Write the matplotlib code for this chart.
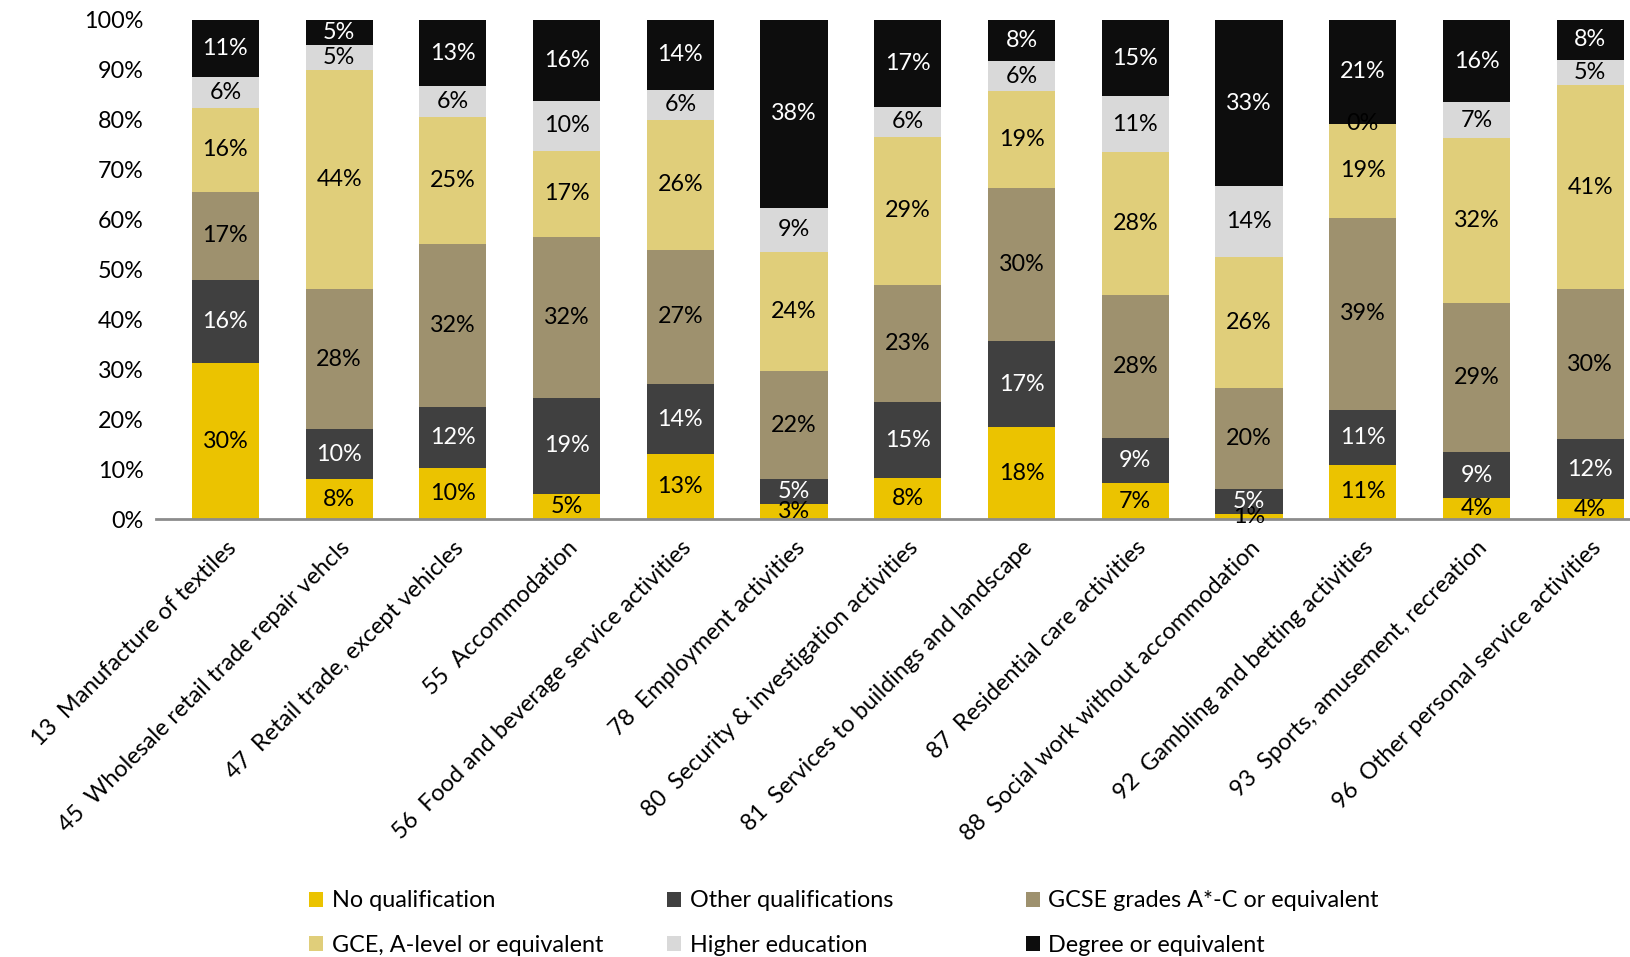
import numpy as np
import matplotlib
matplotlib.use("Agg")
import matplotlib.pyplot as plt
from matplotlib.patches import Patch

plt.rcParams['font.family'] = ['Lato', 'DejaVu Sans']

industries = [
    "13  Manufacture of textiles",
    "45  Wholesale retail trade repair vehcls",
    "47  Retail trade, except vehicles",
    "55  Accommodation",
    "56  Food and beverage service activities",
    "78  Employment activities",
    "80  Security & investigation activities",
    "81  Services to buildings and landscape",
    "87  Residential care activities",
    "88  Social work without accommodation",
    "92  Gambling and betting activities",
    "93  Sports, amusement, recreation",
    "96  Other personal service activities",
]

qualifications = [
    "No qualification",
    "Other qualifications",
    "GCSE grades A*-C or equivalent",
    "GCE, A-level or equivalent",
    "Higher education",
    "Degree or equivalent",
]

# share of workers (%) by highest qualification, one list per qualification
no_qual = [30, 8, 10, 5, 13, 3, 8, 18, 7, 1, 11, 4, 4]
other_qual = [16, 10, 12, 19, 14, 5, 15, 17, 9, 5, 11, 9, 12]
gcse = [17, 28, 32, 32, 27, 22, 23, 30, 28, 20, 39, 29, 30]
gce = [16, 44, 25, 17, 26, 24, 29, 19, 28, 26, 19, 32, 41]
higher_ed = [6, 5, 6, 10, 6, 9, 6, 6, 11, 14, 0, 7, 5]
degree = [11, 5, 13, 16, 14, 38, 17, 8, 15, 33, 21, 16, 8]

colors = ["#EBC300", "#404040", "#9E916E", "#E0CE7A", "#D9D9D9", "#0D0D0D"]
text_colors = ["black", "white", "black", "black", "black", "white"]

series = np.array([no_qual, other_qual, gcse, gce, higher_ed, degree], dtype=float)
totals = series.sum(axis=0)
shares = series / totals  # 100% stacked

fs = 16.8

fig = plt.figure(figsize=(16.3, 9.57), dpi=100)
ax = fig.add_axes([156 / 1630, 1 - 519 / 957, 1 - 156 / 1630, (519 - 20) / 957])

x = np.arange(len(industries))
width = 0.59
bottom = np.zeros(len(industries))
handles = []
for k in range(len(qualifications)):
    ax.bar(x, shares[k], width, bottom=bottom, color=colors[k], zorder=2)
    handles.append(Patch(facecolor=colors[k], label=qualifications[k]))
    for i in range(len(industries)):
        ax.text(x[i], bottom[i] + shares[k][i] / 2, "%d%%" % series[k][i],
                ha='center', va='center', fontsize=fs, color=text_colors[k], zorder=5)
    bottom += shares[k]

ax.set_xlim(-0.61, 12.35)
ax.set_ylim(0, 1)
ax.set_yticks(np.arange(0, 1.01, 0.1))
ax.set_yticklabels(["%d%%" % v for v in range(0, 101, 10)], fontsize=fs)
ax.set_xticks(x)
ax.set_xticklabels(industries, rotation=45, ha='right', va='top',
                   rotation_mode='anchor', fontsize=fs)
ax.tick_params(axis='both', length=0)
ax.tick_params(axis='y', pad=9)
ax.tick_params(axis='x', pad=13)
for side in ['top', 'right', 'left']:
    ax.spines[side].set_visible(False)
ax.spines['bottom'].set_color('#8C8C8C')
ax.spines['bottom'].set_linewidth(2)

# legend laid out as three fixed-width columns
col_x = [300 / 1630, 658 / 1630, 1017 / 1630]
for c in range(3):
    fig.legend(handles=[handles[c], handles[c + 3]], loc='upper left',
               bbox_to_anchor=(col_x[c], 1 - 881 / 957), frameon=False,
               fontsize=fs, handlelength=0.6, handleheight=0.6,
               handletextpad=0.35, labelspacing=1.0, borderaxespad=0)

fig.savefig("out.png", dpi=100)
